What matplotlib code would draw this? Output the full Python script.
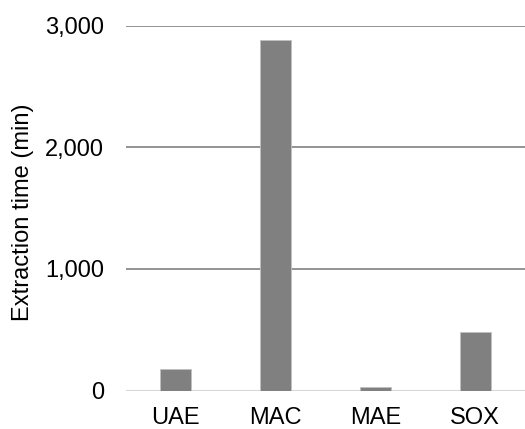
import matplotlib.pyplot as plt
from matplotlib.ticker import FuncFormatter

methods = ['UAE', 'MAC', 'MAE', 'SOX']
extraction_time = [180, 2880, 30, 480]
y_ticks = [0, 1000, 2000, 3000]

plt.rcParams['font.family'] = ['Liberation Sans', 'DejaVu Sans']

fig = plt.figure(figsize=(5.25, 4.29), dpi=100)
ax = fig.add_axes([126 / 525, 1 - 390.5 / 429, 399 / 525, (390.5 - 25.7) / 429])

ax.bar(range(len(methods)), extraction_time, width=0.31, color='#808080',
       edgecolor='#bfbfbf', linewidth=0.6, zorder=3)

ax.set_xlim(-0.5, 3.5)
ax.set_ylim(0, 3000)
ax.set_yticks(y_ticks)
ax.yaxis.set_major_formatter(FuncFormatter(lambda v, p: f'{int(v):,}'))
ax.set_xticks(range(len(methods)))
ax.set_xticklabels(methods)

for v in y_ticks[1:]:
    ax.axhline(v, color='#8a8a8a', linewidth=1.3, zorder=1)
ax.axhline(0, color='#d9d9d9', linewidth=1.5, zorder=2)

for s in ax.spines.values():
    s.set_visible(False)
ax.tick_params(axis='both', length=0, labelsize=17, colors='black')
ax.tick_params(axis='y', pad=16)
ax.tick_params(axis='x', pad=12)

ax.set_ylabel('Extraction time (min)', fontsize=17)
ax.yaxis.set_label_coords(-0.23, 0.489)

fig.savefig('out.png', dpi=100)
